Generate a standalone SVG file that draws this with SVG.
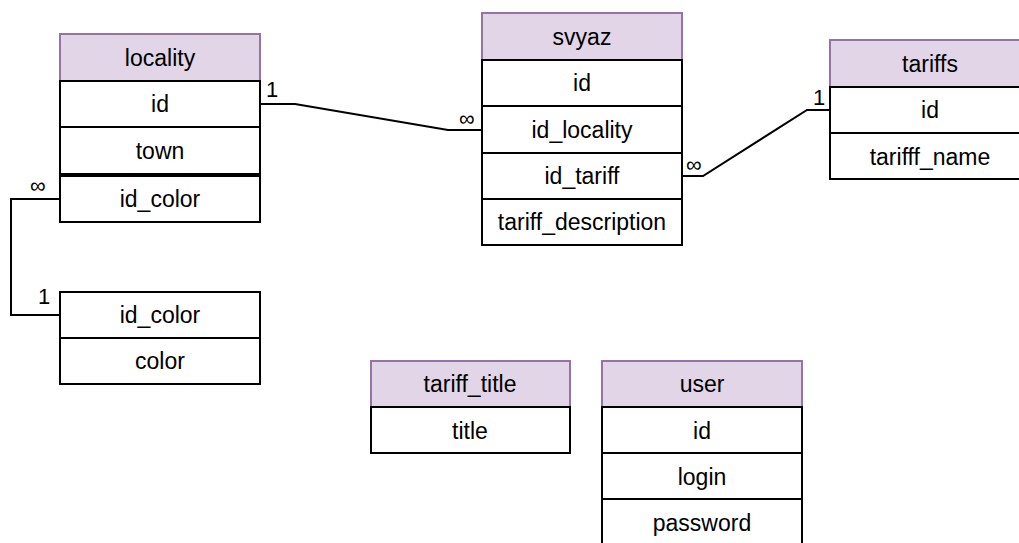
<svg xmlns="http://www.w3.org/2000/svg" width="1019" height="543" viewBox="0 0 1019 543">
<style>
.h{fill:#e1d5e7;stroke:#9673a6;stroke-width:2}
.r{fill:#fff;stroke:#000;stroke-width:2}
.t{font-family:"Liberation Sans",Arial,sans-serif;font-size:23px;fill:#000;text-anchor:middle;dominant-baseline:central}
.l{font-family:"Liberation Sans",Arial,sans-serif;font-size:22px;fill:#000}
.c{fill:none;stroke:#000;stroke-width:2}
</style>
<rect width="1019" height="543" fill="#fff"/>
<g id="connectors">
<polyline class="c" points="260,104 295,104 448,130 482,130"/>
<polyline class="c" points="682,176 703,176 807,110 830,110"/>
<polyline class="c" points="60,199 11,199 11,315 60,315"/>
<text class="l" x="266" y="97">1</text>
<text class="l" x="459" y="126">∞</text>
<text class="l" x="686" y="172">∞</text>
<text class="l" x="813" y="105">1</text>
<text class="l" x="30" y="193">∞</text>
<text class="l" x="38" y="304">1</text>
</g>
<g id="locality">
<rect class="h" x="60" y="34" width="200" height="47"/>
<text class="t" x="160" y="58">locality</text>
<rect class="r" x="60" y="81" width="200" height="46"/>
<text class="t" x="160" y="104">id</text>
<rect class="r" x="60" y="127" width="200" height="47"/>
<text class="t" x="160" y="151">town</text>
<rect class="r" x="60" y="176" width="200" height="46"/>
<text class="t" x="160" y="199">id_color</text>
</g>
<g id="svyaz">
<rect class="h" x="482" y="13" width="200" height="47"/>
<text class="t" x="582" y="37">svyaz</text>
<rect class="r" x="482" y="60" width="200" height="46"/>
<text class="t" x="582" y="83">id</text>
<rect class="r" x="482" y="106" width="200" height="47"/>
<text class="t" x="582" y="130">id_locality</text>
<rect class="r" x="482" y="153" width="200" height="46"/>
<text class="t" x="582" y="176">id_tariff</text>
<rect class="r" x="482" y="199" width="200" height="46"/>
<text class="t" x="582" y="222">tariff_description</text>
</g>
<g id="tariffs">
<rect class="h" x="830" y="40" width="200" height="47"/>
<text class="t" x="930" y="64">tariffs</text>
<rect class="r" x="830" y="87" width="200" height="46"/>
<text class="t" x="930" y="110">id</text>
<rect class="r" x="830" y="133" width="200" height="46"/>
<text class="t" x="930" y="157">tarifff_name</text>
</g>
<g id="color">
<rect class="r" x="60" y="292" width="200" height="46"/>
<text class="t" x="160" y="315">id_color</text>
<rect class="r" x="60" y="338" width="200" height="46"/>
<text class="t" x="160" y="361">color</text>
</g>
<g id="tariff_title">
<rect class="h" x="371" y="361" width="199" height="46"/>
<text class="t" x="470" y="384">tariff_title</text>
<rect class="r" x="371" y="407" width="199" height="46"/>
<text class="t" x="470" y="431">title</text>
</g>
<g id="user">
<rect class="h" x="602" y="361" width="200" height="46"/>
<text class="t" x="702" y="384">user</text>
<rect class="r" x="602" y="407" width="200" height="46"/>
<text class="t" x="702" y="431">id</text>
<rect class="r" x="602" y="453" width="200" height="46"/>
<text class="t" x="702" y="477">login</text>
<rect class="r" x="602" y="499" width="200" height="46"/>
<text class="t" x="702" y="523">password</text>
</g>
</svg>
